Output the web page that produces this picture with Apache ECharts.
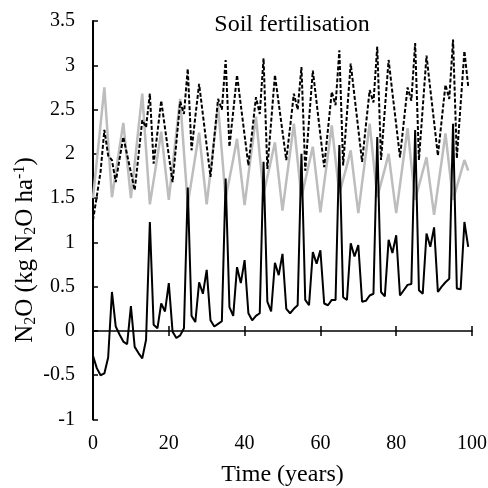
<!DOCTYPE html>
<html><head><meta charset="utf-8">
<script src="https://cdn.jsdelivr.net/npm/echarts@6/dist/echarts.min.js"></script>
<style>html,body{margin:0;padding:0;background:#fff}#c{width:488px;height:488px}</style>
</head><body><div id="c"></div>
<script>
// Time (years) of each simulated value
const years = [0,1,2,3,4,5,6,7,8,9,10,11,12,13,14,15,16,17,18,19,20,21,22,23,24,25,26,27,28,29,30,31,32,33,34,35,36,37,38,39,40,41,42,43,44,45,46,47,48,49,50,51,52,53,54,55,56,57,58,59,60,61,62,63,64,65,66,67,68,69,70,71,72,73,74,75,76,77,78,79,80,81,82,83,84,85,86,87,88,89,90,91,92,93,94,95,96,97,98,99];
// grey solid line
const greyValues = [1.50,1.92,2.33,2.75,2.13,1.51,1.79,2.07,2.35,1.92,1.50,1.89,2.29,2.68,2.05,1.43,1.70,1.97,2.25,1.86,1.48,1.86,2.24,2.62,2.02,1.43,1.70,1.97,2.24,1.83,1.43,1.80,2.17,2.54,2.02,1.50,1.72,1.94,2.17,1.79,1.42,1.76,2.09,2.42,1.98,1.55,1.74,1.93,2.13,1.74,1.36,1.69,2.01,2.34,1.92,1.51,1.70,1.89,2.08,1.71,1.34,1.67,1.99,2.32,1.93,1.55,1.71,1.87,2.04,1.68,1.33,1.67,2.00,2.34,1.92,1.51,1.67,1.83,2.00,1.66,1.33,1.65,1.97,2.29,1.88,1.48,1.64,1.80,1.96,1.63,1.31,1.62,1.92,2.23,1.85,1.48,1.63,1.78,1.93,1.81];
// black dashed line
const dashedValues = [1.25,1.52,1.80,2.27,1.98,1.93,1.68,1.94,2.19,1.99,1.79,1.59,1.98,2.38,2.30,2.68,1.89,2.24,2.60,2.29,1.98,1.68,2.13,2.59,2.45,2.96,2.04,2.42,2.79,2.44,2.09,1.74,2.18,2.62,2.50,3.06,2.08,2.48,2.89,2.55,2.21,1.87,2.25,2.64,2.45,3.08,1.83,2.36,2.89,2.57,2.25,1.93,2.30,2.68,2.50,2.98,1.81,2.38,2.94,2.58,2.21,1.85,2.28,2.70,2.55,3.17,1.87,2.45,3.02,2.65,2.28,1.91,2.32,2.72,2.58,3.21,1.93,2.50,3.06,2.69,2.33,1.96,2.36,2.75,2.60,3.25,1.93,2.52,3.11,2.73,2.36,1.98,2.38,2.78,2.62,3.29,1.95,2.56,3.16,2.76];
// black solid line
const blackValues = [-0.28,-0.42,-0.50,-0.48,-0.30,0.44,0.05,-0.04,-0.12,-0.15,0.28,-0.18,-0.25,-0.31,-0.10,1.23,0.07,0.03,0.31,0.22,0.54,-0.01,-0.08,-0.05,0.03,1.62,0.17,0.10,0.55,0.42,0.69,0.12,0.05,0.08,0.11,1.72,0.27,0.17,0.72,0.54,0.80,0.20,0.12,0.17,0.20,1.91,0.33,0.22,0.77,0.63,0.87,0.25,0.20,0.25,0.29,2.00,0.35,0.29,0.89,0.76,0.91,0.31,0.29,0.35,0.35,2.10,0.38,0.35,0.99,0.84,0.97,0.33,0.34,0.40,0.42,2.19,0.44,0.39,1.03,0.88,1.08,0.40,0.46,0.52,0.53,2.27,0.46,0.42,1.10,0.95,1.17,0.44,0.50,0.55,0.59,2.34,0.48,0.47,1.23,0.95];
const xTicks = [0,20,40,60,80,100];
const yTicks = [-1,-0.5,0,0.5,1,1.5,2,2.5,3,3.5];

const FONT = 'Liberation Serif';
const pairs = v => years.map((t, i) => [t, v[i]]);

const xBase = {
  type: 'value', min: xTicks[0], max: xTicks[xTicks.length - 1],
  interval: xTicks[1] - xTicks[0], splitLine: {show: false}
};
const chart = echarts.init(document.getElementById('c'), null, {renderer: 'canvas'});
chart.setOption({
  animation: false,
  backgroundColor: '#fff',
  title: {
    text: 'Soil fertilisation', left: 287, top: 8, textAlign: 'center',
    textStyle: {fontFamily: FONT, fontSize: 24, fontWeight: 'normal', color: '#000'}
  },
  grid: {left: 93, right: 16, top: 21, bottom: 68.5, containLabel: false, outerBoundsMode: 'none'},
  xAxis: [
    Object.assign({}, xBase, {
      position: 'bottom',
      axisLine: {show: false, onZero: false},
      axisTick: {show: false},
      axisLabel: {margin: 14, fontFamily: FONT, fontSize: 20, color: '#000'},
      name: 'Time (years)', nameLocation: 'middle', nameGap: 43,
      nameTextStyle: {fontFamily: FONT, fontSize: 24, color: '#000'}
    }),
    Object.assign({}, xBase, {
      position: 'bottom',
      axisLine: {show: true, onZero: true, onZeroAxisIndex: 0, lineStyle: {color: '#000', width: 1.5}},
      axisTick: {show: true, inside: false, length: 5, lineStyle: {color: '#000', width: 1.5}},
      axisLabel: {show: false}
    }),
    Object.assign({}, xBase, {
      position: 'bottom',
      axisLine: {show: false, onZero: true, onZeroAxisIndex: 0},
      axisTick: {show: true, inside: true, length: 5, lineStyle: {color: '#000', width: 1.5}},
      axisLabel: {show: false}
    })
  ],
  yAxis: {
    type: 'value', min: yTicks[0], max: yTicks[yTicks.length - 1], interval: yTicks[1] - yTicks[0],
    splitLine: {show: false},
    axisLine: {show: true, onZero: false, lineStyle: {color: '#000', width: 2}},
    axisTick: {show: true, inside: true, length: 5, lineStyle: {color: '#000', width: 1.5}},
    axisLabel: {margin: 18, fontFamily: FONT, fontSize: 20, color: '#000'}
  },
  graphic: [{
    type: 'text', x: 25, y: 250, rotation: Math.PI / 2, silent: true,
    style: {
      text: 'N{sub|2}O (kg N{sub|2}O ha{sup|-1})',
      fontFamily: FONT, fontSize: 25, fill: '#000', align: 'center', verticalAlign: 'middle',
      rich: {
        sub: {fontFamily: FONT, fontSize: 16, fill: '#000', padding: [11, 0, 0, 0]},
        sup: {fontFamily: FONT, fontSize: 16, fill: '#000', padding: [0, 0, 10, 0]}
      }
    }
  }],
  series: [
    {type: 'line', name: 'grey', xAxisIndex: 0, data: pairs(greyValues), symbol: 'none',
     lineStyle: {color: '#bdbdbd', width: 2.5}, z: 2},
    {type: 'line', name: 'dashed', xAxisIndex: 0, data: pairs(dashedValues), symbol: 'none',
     lineStyle: {color: '#000', width: 2, type: [4, 2]}, z: 3},
    {type: 'line', name: 'black', xAxisIndex: 0, data: pairs(blackValues), symbol: 'none',
     lineStyle: {color: '#000', width: 2}, z: 4}
  ]
});
</script>
</body></html>
